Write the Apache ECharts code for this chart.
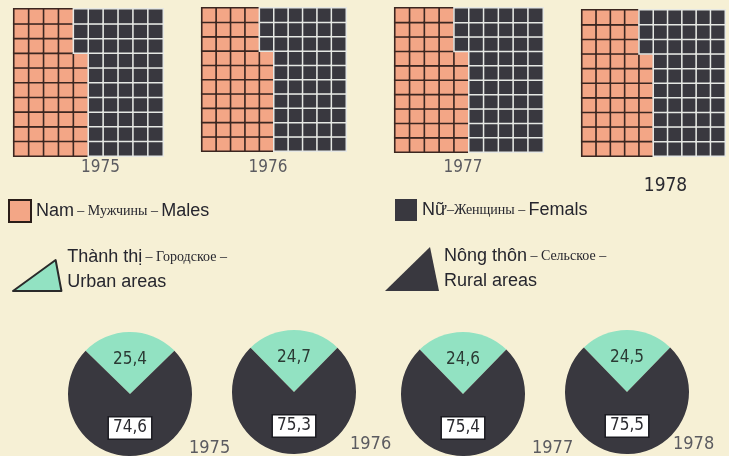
<!DOCTYPE html>
<html>
<head>
<meta charset="utf-8">
<script src="https://cdn.jsdelivr.net/npm/echarts@6/dist/echarts.min.js"></script>
<style>
html,body{margin:0;padding:0;background:#f6f0d5;}
#c{width:729px;height:456px;}
</style>
</head>
<body>
<div id="c"></div>
<script>
// ---- data ----
const years = ['1975', '1976', '1977', '1978'];
const maleCells = [47, 47, 47, 47];          // cells out of 100 (10x10)
const urbanPct = [25.4, 24.7, 24.6, 24.5];
const ruralPct = [74.6, 75.3, 75.4, 75.5];
const gridCols = ['0','1','2','3','4','5','6','7','8','9'];
const gridRows = ['0','1','2','3','4','5','6','7','8','9'];
const sexNames = ['Males', 'Females'];
const areaNames = ['Urban', 'Rural'];

// ---- layout / style ----
const PINK = '#f3a686', DARK = '#39383f', GREEN = '#92e2c2', BG = '#f6f0d5', TXT = '#26262e';
const NARROW = '"Liberation Sans Narrow","DejaVu Sans Condensed",sans-serif';
const boxes = [
  {left: 14, top: 9, width: 149, height: 147, gap: 3, bold: false, pad: 12},
  {left: 202, top: 8, width: 144, height: 143, gap: 8, bold: false, pad: -6},
  {left: 395, top: 8, width: 148, height: 144, gap: 7, bold: false, pad: -6},
  {left: 582, top: 10, width: 143, height: 146, gap: 21, bold: true, pad: 12}
];
const pieCenters = [[130, 394], [294, 392], [463, 394], [627, 392]];
const pieYearPos = [[184, 434], [345, 430], [527, 434], [668, 430]];

const fmt = v => String(v).replace('.', ',');

const grid = [], xAxis = [], yAxis = [], series = [], title = [];
years.forEach((y, i) => {
  const b = boxes[i];
  grid.push({left: b.left, top: b.top, width: b.width, height: b.height});
  xAxis.push({
    type: 'category', gridIndex: i, data: gridCols,
    axisLine: {show: false}, axisTick: {show: false}, axisLabel: {show: false}, splitLine: {show: false},
    name: y, nameLocation: 'middle', nameGap: b.gap,
    nameTextStyle: {
      fontFamily: NARROW,
      fontSize: b.bold ? 19 : 17, color: b.bold ? '#2a2a30' : '#5b5b60',
      verticalAlign: 'top', padding: [0, 0, 0, b.pad * 2]
    }
  });
  yAxis.push({
    type: 'category', gridIndex: i, data: gridRows,
    axisLine: {show: false}, axisTick: {show: false}, axisLabel: {show: false}, splitLine: {show: false}
  });
  const male = [], female = [];
  for (let k = 0; k < gridCols.length * gridRows.length; k++) {
    const c = Math.floor(k / gridRows.length), r = k % gridRows.length;
    (k < maleCells[i] ? male : female).push([c, r, 1]);
  }
  series.push({
    type: 'heatmap', name: sexNames[0], xAxisIndex: i, yAxisIndex: i, data: male, silent: true,
    itemStyle: {color: PINK, borderColor: '#3b2620', borderWidth: 1.6}
  });
  series.push({
    type: 'heatmap', name: sexNames[1], xAxisIndex: i, yAxisIndex: i, data: female, silent: true,
    itemStyle: {color: DARK, borderColor: '#e6e8e4', borderWidth: 1.5}
  });
  // pie
  const startAngle = 90 + urbanPct[i] / 100 * 180;
  series.push({
    type: 'pie', center: pieCenters[i], radius: 62, startAngle: startAngle, clockwise: true,
    silent: true, avoidLabelOverlap: false,
    labelLine: {show: false},
    data: [
      {name: areaNames[0], value: urbanPct[i], itemStyle: {color: GREEN},
        label: {show: true, position: 'inside', formatter: p => fmt(p.value),
          fontFamily: NARROW, fontSize: 17, color: '#2b3a34', padding: [0, 0, 2, 0]}},
      {name: areaNames[1], value: ruralPct[i], itemStyle: {color: DARK},
        label: {show: true, position: 'inside', formatter: p => fmt(p.value),
          fontFamily: NARROW, fontSize: 17, color: '#2b2b30', backgroundColor: '#ffffff',
          borderColor: '#1c1c22', borderWidth: 1.5, padding: [3, 4, 1, 4]}}
    ]
  });
  title.push({
    text: y, left: pieYearPos[i][0], top: pieYearPos[i][1],
    textStyle: {fontFamily: NARROW, fontSize: 18, fontWeight: 'normal', color: '#5b5b60'}
  });
});

const rich = {
  vi: {fontFamily: 'Liberation Sans, Arial, sans-serif', fontSize: 18, color: TXT, lineHeight: 25},
  ru: {fontFamily: 'Liberation Serif, serif', fontSize: 14, color: TXT, lineHeight: 25},
  en: {fontFamily: 'Liberation Sans, Arial, sans-serif', fontSize: 18, color: TXT, lineHeight: 25}
};
const legendText = {
  Males: '{vi|Nam} {ru|– Мужчины –} {en|Males}',
  Females: '{vi|Nữ}{ru|–Женщины –} {en|Femals}',
  Urban: '{vi|Thành thị} {ru|– Городское –}\n{en|Urban areas}',
  Rural: '{vi|Nông thôn} {ru|– Сельское –}\n{en|Rural areas}'
};
function leg(name, left, top, icon, w, h, extra, textPad) {
  return Object.assign({
    data: [name], left: left, top: top, icon: icon, itemWidth: w, itemHeight: h,
    selectedMode: false, padding: 0, itemGap: 0,
    formatter: n => legendText[n],
    textStyle: {rich: rich, padding: textPad || [0, 0, 0, 0]}
  }, extra || {});
}

const option = {
  backgroundColor: BG,
  animation: false,
  title: title,
  grid: grid, xAxis: xAxis, yAxis: yAxis,
  legend: [
    leg('Males', 8, 199, 'rect', 22, 22, {itemStyle: {borderColor: '#2a1d18', borderWidth: 2}}),
    leg('Females', 395, 199, 'rect', 22, 22, {itemStyle: {borderWidth: 0}}),
    leg('Urban', 12, 248, 'path://M0,32 L44,0 L50,32 Z', 50, 31, {itemStyle: {borderColor: '#2a2a2a', borderWidth: 2}}, [0, 0, 12, 0]),
    leg('Rural', 385, 247, 'path://M0,44 L45,0 L54,44 Z', 54, 45, {itemStyle: {borderWidth: 0}})
  ],
  series: series
};
const chart = echarts.init(document.getElementById('c'), null, {renderer: 'canvas'});
chart.setOption(option);
</script>
</body>
</html>
